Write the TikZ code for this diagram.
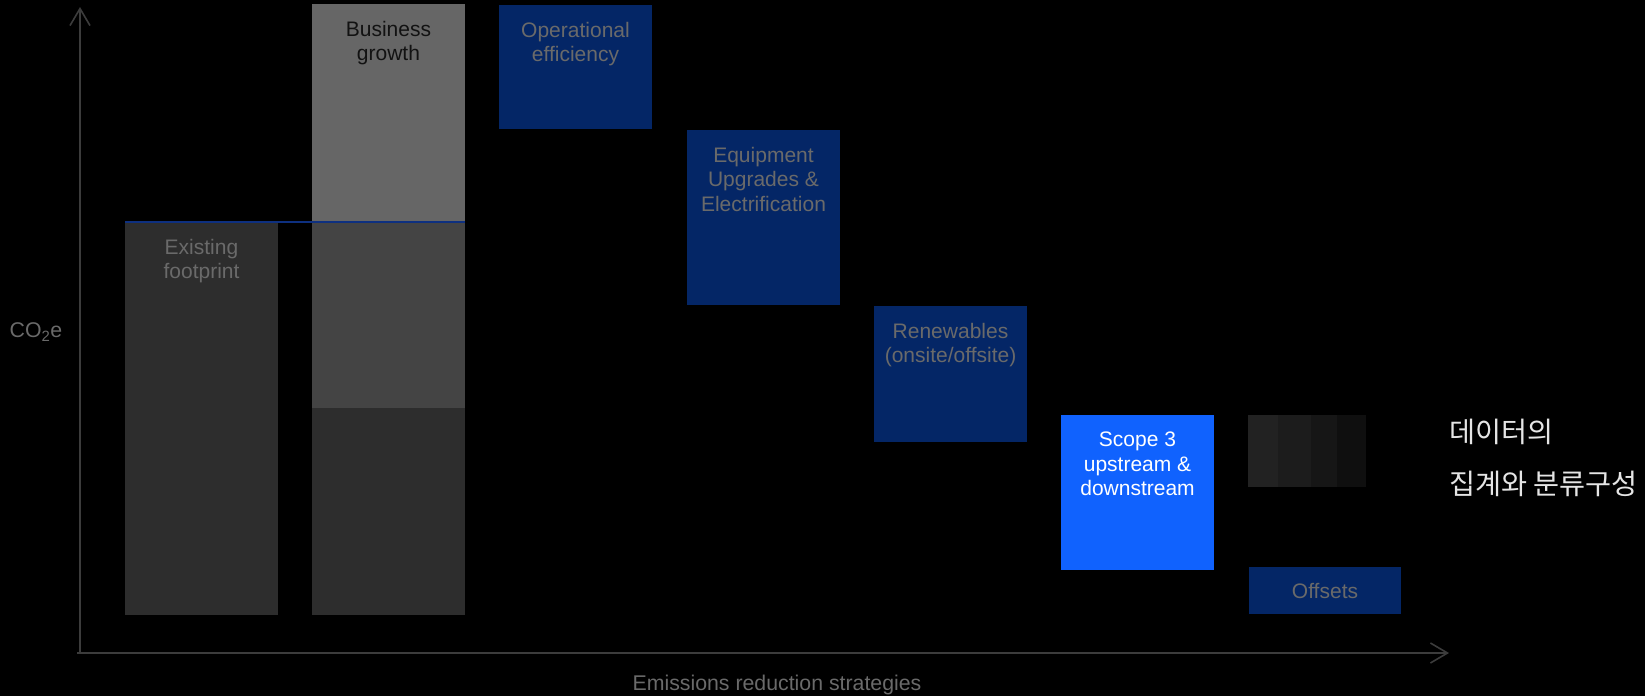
\documentclass[tikz,border=0pt]{standalone}
\usepackage{fontspec}
\setmainfont{Liberation Sans}
\newfontfamily\kofont{Noto Sans CJK KR}
\usetikzlibrary{arrows.meta}
\definecolor{navy}{RGB}{4,38,102}
\definecolor{brightblue}{RGB}{16,98,254}
\definecolor{lineblue}{RGB}{14,48,128}
\definecolor{gdark}{HTML}{2D2D2D}
\definecolor{gmid}{HTML}{444444}
\definecolor{glight}{HTML}{666666}
\definecolor{labgray}{HTML}{6A6A6A}
\definecolor{axisgray}{HTML}{3C3C3C}
\definecolor{sA}{HTML}{222222}
\definecolor{sB}{HTML}{1C1C1C}
\definecolor{sC}{HTML}{161616}
\definecolor{sD}{HTML}{0F0F0F}
\begin{document}
\begin{tikzpicture}[x=1pt,y=-1pt,
  bar/.style={rectangle, draw=none, inner sep=0pt, outer sep=0pt, anchor=north west},
  lbl/.style={anchor=north, inner sep=0pt, align=center, yshift=-17pt, font=\fontsize{21}{24.5}\selectfont, text=labgray},
  axis/.style={draw=axisgray, line width=1.6pt, -{Straight Barb[length=17pt,width=20pt,line width=1.6pt]}},
  side/.style={text=labgray, font=\fontsize{21.3}{25}\selectfont, inner sep=0pt},
  ko/.style={anchor=west, inner sep=0pt, text=white!90!black, font=\kofont\fontsize{28.3}{32}\selectfont}]
\fill[black] (0,0) rectangle (1645,696);
\useasboundingbox (0,0) rectangle (1645,696);

% bars
\node[bar, fill=gdark, minimum width=153pt, minimum height=393pt] (exist) at (125,222) {};
\node[bar, fill=glight, minimum width=153pt, minimum height=218pt] (bgtop) at (312,4) {};
\node[bar, fill=gmid, minimum width=153pt, minimum height=186pt] (bgmid) at (312,222) {};
\node[bar, fill=gdark, minimum width=153pt, minimum height=207pt] (bgbot) at (312,408) {};
\node[bar, fill=navy, minimum width=153pt, minimum height=124pt] (ops) at (499,5) {};
\node[bar, fill=navy, minimum width=153pt, minimum height=175pt] (equip) at (687,130) {};
\node[bar, fill=navy, minimum width=153pt, minimum height=136pt] (renew) at (874,306) {};
\node[bar, fill=brightblue, minimum width=153pt, minimum height=155pt] (scope) at (1061,415) {};
\node[bar, fill=sA, minimum width=30pt, minimum height=72pt] (g1) at (1248,415) {};
\node[bar, fill=sB, minimum width=33pt, minimum height=72pt] (g2) at (1278,415) {};
\node[bar, fill=sC, minimum width=26pt, minimum height=72pt] (g3) at (1311,415) {};
\node[bar, fill=sD, minimum width=29pt, minimum height=72pt] (g4) at (1337,415) {};
\node[bar, fill=navy, minimum width=152pt, minimum height=47pt] (offs) at (1249,567) {};

% baseline line
\draw[lineblue, line width=2pt] (exist.north west) -- (bgmid.north east);

% labels
\node[lbl] (texist) at (exist.north) {Existing\\footprint};
\node[lbl, text=black!93] (tbg) at (bgtop.north) {Business\\growth};
\node[lbl] (tops) at (ops.north) {Operational\\efficiency};
\node[lbl] (tequip) at (equip.north) {Equipment\\Upgrades \&\\Electrification};
\node[lbl] (trenew) at (renew.north) {Renewables\\(onsite/offsite)};
\node[lbl, text=white] (tscope) at (scope.north) {Scope 3\\upstream \&\\downstream};
\node[inner sep=0pt, text=labgray, font=\fontsize{21}{24.5}\selectfont] (toffs) at (offs.center) {Offsets};

% axes
\coordinate (orig) at (80,653);
\coordinate (ytip) at (80,7);
\coordinate (xstart) at (77,653);
\coordinate (xtip) at (1449,653);
\draw[axis] (orig) -- (ytip);
\draw[axis] (xstart) -- (xtip);
\node[side] (ylab) at (36,332) {CO\textsubscript{2}e};
\node[side] (xlab) at (777,685) {Emissions reduction strategies};

% Korean note
\node[ko] (k1) at (1449,432) {데이터의};
\node[ko] (k2) at (1449,484) {집계와 분류구성};
\end{tikzpicture}
\end{document}
